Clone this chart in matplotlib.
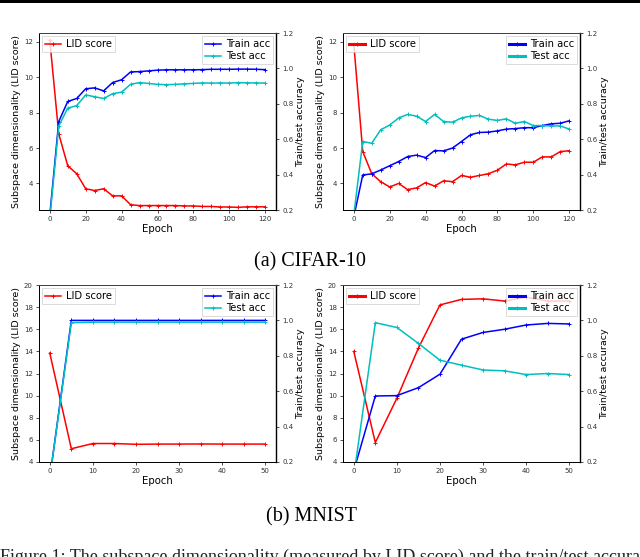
import matplotlib
matplotlib.use("Agg")
import matplotlib.pyplot as plt
from matplotlib.patches import Rectangle

# ---------------- data ----------------
epochs_cifar = [0, 5, 10, 15, 20, 25, 30, 35, 40, 45, 50, 55, 60, 65, 70, 75, 80, 85, 90, 95, 100, 105, 110, 115, 120]
epochs_mnist = [0, 5, 10, 15, 20, 25, 30, 35, 40, 45, 50]

# (a) CIFAR-10, left panel
c1_lid = [12.1, 6.8, 5.0, 4.55, 3.7, 3.6, 3.7, 3.3, 3.3, 2.8, 2.75, 2.75, 2.75, 2.75, 2.75, 2.73, 2.73, 2.7, 2.7, 2.67, 2.67, 2.65, 2.68, 2.68, 2.68]
c1_train = [0.17, 0.70, 0.813, 0.83, 0.885, 0.89, 0.873, 0.92, 0.936, 0.98, 0.982, 0.986, 0.99, 0.992, 0.992, 0.992, 0.992, 0.993, 0.995, 0.995, 0.995, 0.996, 0.996, 0.995, 0.993]
c1_test = [0.15, 0.675, 0.775, 0.79, 0.85, 0.84, 0.83, 0.857, 0.866, 0.91, 0.92, 0.915, 0.91, 0.908, 0.91, 0.913, 0.915, 0.918, 0.917, 0.918, 0.917, 0.92, 0.918, 0.918, 0.917]

# (a) CIFAR-10, right panel
c2_lid = [11.9, 5.8, 4.55, 4.1, 3.8, 4.0, 3.65, 3.75, 4.05, 3.85, 4.15, 4.1, 4.45, 4.35, 4.45, 4.55, 4.75, 5.1, 5.05, 5.2, 5.2, 5.5, 5.5, 5.8, 5.85]
c2_train = [0.16, 0.398, 0.404, 0.426, 0.45, 0.474, 0.502, 0.51, 0.496, 0.536, 0.534, 0.55, 0.587, 0.625, 0.638, 0.64, 0.647, 0.657, 0.66, 0.665, 0.665, 0.677, 0.687, 0.69, 0.704]
c2_test = [0.17, 0.587, 0.577, 0.653, 0.68, 0.72, 0.74, 0.73, 0.70, 0.74, 0.70, 0.696, 0.72, 0.73, 0.734, 0.713, 0.706, 0.715, 0.69, 0.70, 0.677, 0.677, 0.675, 0.675, 0.657]

# (b) MNIST, left panel
m1_lid = [13.85, 5.2, 5.67, 5.67, 5.6, 5.62, 5.62, 5.63, 5.62, 5.62, 5.62]
m1_train = [0.11, 1.0, 1.0, 1.0, 1.0, 1.0, 1.0, 1.0, 1.0, 1.0, 1.0]
m1_test = [0.11, 0.987, 0.99, 0.99, 0.99, 0.99, 0.99, 0.99, 0.99, 0.99, 0.99]

# (b) MNIST, right panel
m2_lid = [14.0, 5.76, 9.76, 14.3, 18.2, 18.7, 18.75, 18.55, 18.9, 18.55, 18.55]
m2_train = [0.15, 0.573, 0.575, 0.62, 0.696, 0.894, 0.932, 0.95, 0.974, 0.983, 0.98]
m2_test = [0.12, 0.987, 0.96, 0.87, 0.775, 0.747, 0.72, 0.715, 0.694, 0.70, 0.694]

captions = ["(a) CIFAR-10", "(b) MNIST"]
figure_caption = "Figure 1: The subspace dimensionality (measured by LID score) and the train/test accuracy"

# ---------------- drawing ----------------
fig = plt.figure(figsize=(6.4, 5.57), dpi=100)
W, H = 640.0, 557.0

def panel(px_left, px_top, epochs, lid, train, test, xticks, lid_ylim, lid_yticks, thick):
    left = px_left / W
    bottom = 1 - (px_top + 177) / H
    ax = fig.add_axes([left, bottom, 237 / W, 177 / H])
    ax2 = ax.twinx()
    lw = 1.1
    ms = 3
    l1, = ax.plot(epochs, lid, color="#ff0000", lw=lw, marker="+", ms=ms, mew=0.7, label="LID score")
    l2, = ax2.plot(epochs, train, color="#0000ff", lw=lw, marker="+", ms=ms, mew=0.7, label="Train acc")
    l3, = ax2.plot(epochs, test, color="#00bfbf", lw=lw, marker="+", ms=ms, mew=0.7, label="Test acc")
    span = epochs[-1] - epochs[0]
    ax.set_xlim(epochs[0] - 0.05 * span, epochs[-1] + 0.05 * span)
    ax.set_ylim(*lid_ylim)
    ax.set_yticks(lid_yticks)
    ax.set_xticks(xticks)
    ax2.set_ylim(0.2, 1.2)
    ax2.set_yticks([0.2, 0.4, 0.6, 0.8, 1.0, 1.2])
    ax2.set_yticklabels(["0.2", "0.4", "0.6", "0.8", "1.0", "1.2"])
    for a in (ax, ax2):
        a.tick_params(labelsize=5, length=2.5, width=0.6, colors="#333333", pad=2)
        for s in a.spines.values():
            s.set_linewidth(0.7)
    ax.spines["left"].set_color("#777777")
    ax.spines["bottom"].set_color("#777777")
    ax2.spines["right"].set_color("black")
    ax2.spines["right"].set_linewidth(1.0)
    ax2.spines["top"].set_color("#444444")
    ax.set_xlabel("Epoch", fontsize=7.3, labelpad=1.5)
    ax.set_ylabel("Subspace dimensionality (LID score)", fontsize=6.8, labelpad=2)
    ax2.set_ylabel("Train/test accuracy", fontsize=6.8, labelpad=2)
    leg1 = ax2.legend(handles=[l1], loc="upper left", fontsize=7.2, handlelength=1.6,
                      borderpad=0.3, borderaxespad=0.3, handletextpad=0.5, fancybox=False)
    ax2.add_artist(leg1)
    leg2 = ax2.legend(handles=[l2, l3], loc="upper right", fontsize=7.2, handlelength=1.6,
                      borderpad=0.3, borderaxespad=0.3, handletextpad=0.5, labelspacing=0.2, fancybox=False)
    for lg in (leg1, leg2):
        lg.get_frame().set_edgecolor("#cccccc")
        lg.get_frame().set_linewidth(0.6)
        if thick:
            for h in lg.get_lines():
                h.set_linewidth(2.2)
    return ax, ax2

cifar_xt = [0, 20, 40, 60, 80, 100, 120]
mnist_xt = [0, 10, 20, 30, 40, 50]
panel(39, 33, epochs_cifar, c1_lid, c1_train, c1_test, cifar_xt, (2.5, 12.5), [4, 6, 8, 10, 12], False)
panel(343, 33, epochs_cifar, c2_lid, c2_train, c2_test, cifar_xt, (2.5, 12.5), [4, 6, 8, 10, 12], True)
panel(39, 285, epochs_mnist, m1_lid, m1_train, m1_test, mnist_xt, (4, 20), [4, 6, 8, 10, 12, 14, 16, 18, 20], False)
panel(343, 285, epochs_mnist, m2_lid, m2_train, m2_test, mnist_xt, (4, 20), [4, 6, 8, 10, 12, 14, 16, 18, 20], True)

# top rule
fig.patches.append(Rectangle((0, 1 - 3 / H), 1, 3 / H, transform=fig.transFigure,
                             facecolor="black", edgecolor="none"))

fig.text(310 / W, 1 - 262 / H, captions[0], ha="center", va="center",
         family="Liberation Serif", fontsize=14.5)
fig.text(311 / W, 1 - 517 / H, captions[1], ha="center", va="center",
         family="Liberation Serif", fontsize=14.5)
fig.text(0.0, 1 - 549 / H, figure_caption, ha="left", va="top",
         family="Liberation Serif", fontsize=13, color="#222222")

fig.savefig("out.png", dpi=100)
